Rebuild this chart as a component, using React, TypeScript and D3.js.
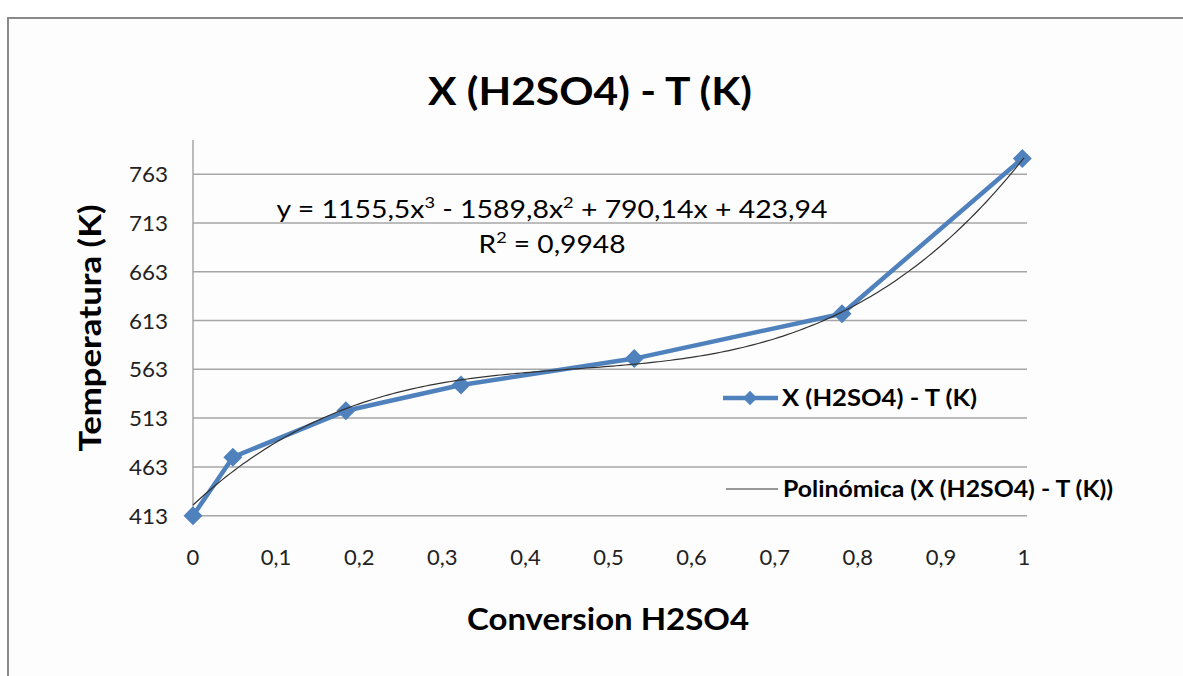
import React from "react";
import * as d3 from "d3";

const conversion = [0, 0.048, 0.184, 0.3225, 0.531, 0.781, 0.998];
const temperature = [413, 473, 520.5, 547, 574, 620, 779];
const yTicks = [413, 463, 513, 563, 613, 663, 713, 763];
const xTicks = [0, 0.1, 0.2, 0.3, 0.4, 0.5, 0.6, 0.7, 0.8, 0.9, 1];
const polyCoefs = [423.94, 790.14, -1589.8, 1155.5]; // c0 + c1 x + c2 x^2 + c3 x^3
const title = "X (H2SO4) - T (K)";
const seriesName = "X (H2SO4) - T (K)";
const trendName = "Polinómica (X (H2SO4) - T (K))";

const W = 1183;
const H = 676;
const font = "Lato, 'Open Sans', sans-serif";

export default function App() {
  const x = d3.scaleLinear().domain([0, 1]).range([193, 1024]);
  const y = d3.scaleLinear().domain([413, 798]).range([515.7, 140]);

  const poly = (v: number) =>
    polyCoefs[0] + polyCoefs[1] * v + polyCoefs[2] * v * v + polyCoefs[3] * v * v * v;
  const trendPts = d3.range(0, 1.0001, 0.005).map((v) => [v, poly(v)] as [number, number]);
  const line = d3
    .line<[number, number]>()
    .x((d) => x(d[0]))
    .y((d) => y(d[1]));
  const series = conversion.map((c, i) => [c, temperature[i]] as [number, number]);
  const diamond = d3.symbol().type(d3.symbolDiamond2).size(230)();
  const blue = "#4F81BD";
  const adj = "spacingAndGlyphs";

  return (
    <svg
      width={W}
      height={H}
      style={{ position: "absolute", left: 0, top: 0, background: "#fff" }}
      fontFamily={font}
    >
      <rect x={0} y={0} width={W} height={H} fill="#fff" />
      <rect x={8} y={18} width={W} height={H} fill="#fdfdfd" stroke="#8a8a8a" strokeWidth={2} />
      <text x={590} y={105} textAnchor="middle" fontSize={39} fontWeight="bold" fill="#000"
        textLength={324} lengthAdjust={adj}>
        {title}
      </text>
      {/* gridlines */}
      {yTicks.map((t) => (
        <line key={t} x1={x(0)} x2={x(1) + 3} y1={y(t)} y2={y(t)} stroke="#a6a6a6" strokeWidth={1.5} />
      ))}
      <line x1={x(0)} x2={x(0)} y1={y(798)} y2={y(413)} stroke="#a6a6a6" strokeWidth={1.5} />
      {yTicks.map((t) => (
        <text key={"yl" + t} x={168} y={y(t) + 8} textAnchor="end" fontSize={22} fill="#222"
          textLength={39} lengthAdjust={adj}>
          {t}
        </text>
      ))}
      {xTicks.map((t) => (
        <text key={"xl" + t} x={x(t)} y={565} textAnchor="middle" fontSize={22} fill="#222">
          {String(t).replace(".", ",")}
        </text>
      ))}
      <text
        transform={`translate(101,${328}) rotate(-90)`}
        textAnchor="middle"
        fontSize={30}
        fontWeight="bold"
        fill="#000"
        textLength={247}
        lengthAdjust={adj}
      >
        Temperatura (K)
      </text>
      <text x={608} y={630} textAnchor="middle" fontSize={30} fontWeight="bold" fill="#000"
        textLength={282} lengthAdjust={adj}>
        Conversion H2SO4
      </text>
      {/* series */}
      <path d={line(series) ?? ""} fill="none" stroke={blue} strokeWidth={4.5} strokeLinejoin="round" />
      {series.map((d, i) => (
        <path key={i} d={diamond ?? ""} transform={`translate(${x(d[0])},${y(d[1])})`} fill={blue} />
      ))}
      {/* trendline */}
      <path d={line(trendPts) ?? ""} fill="none" stroke="#333" strokeWidth={1.2} />
      {/* equation */}
      <text x={552} y={218} textAnchor="middle" fontSize={25} fill="#000" textLength={551} lengthAdjust={adj}>
        y = 1155,5x<tspan dy={-10} fontSize={16}>3</tspan>
        <tspan dy={10}> - 1589,8x</tspan>
        <tspan dy={-10} fontSize={16}>2</tspan>
        <tspan dy={10}> + 790,14x + 423,94</tspan>
      </text>
      <text x={552} y={253} textAnchor="middle" fontSize={25} fill="#000" textLength={147} lengthAdjust={adj}>
        R<tspan dy={-10} fontSize={16}>2</tspan>
        <tspan dy={10}> = 0,9948</tspan>
      </text>
      {/* legend */}
      <line x1={723} x2={778} y1={398} y2={398} stroke={blue} strokeWidth={4.5} />
      <path d={d3.symbol().type(d3.symbolDiamond2).size(130)() ?? ""} transform="translate(750,398)" fill={blue} />
      <text x={782} y={406} fontSize={22} fontWeight="bold" fill="#000" textLength={195} lengthAdjust={adj}>
        {seriesName}
      </text>
      <line x1={726} x2={778} y1={489} y2={489} stroke="#333" strokeWidth={1.2} />
      <text x={783} y={497} fontSize={22} fontWeight="bold" fill="#000" textLength={330} lengthAdjust={adj}>
        {trendName}
      </text>
    </svg>
  );
}
